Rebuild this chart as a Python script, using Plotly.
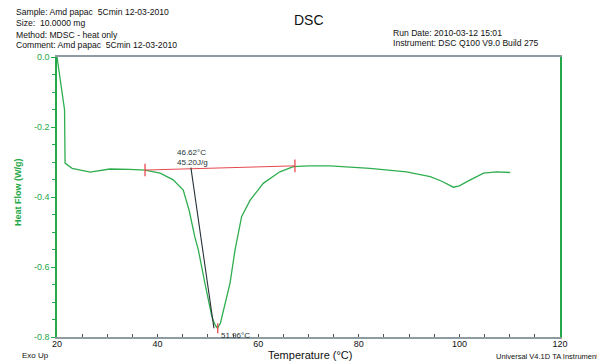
import plotly.graph_objects as go

# ---- data ----
temperature = [20.0, 21.5, 21.6, 23.0, 26.6, 30.5, 34.5, 37.5, 40.5, 43.1, 45.1, 46.3,
               47.4, 48.1, 49.4, 50.8, 51.4, 51.9, 52.5, 53.1, 54.4, 55.4, 56.7, 58.4,
               61.0, 64.3, 67.0, 70.0, 74.3, 82.2, 89.5, 94.2, 96.5, 98.8, 100.0, 101.5,
               104.8, 107.4, 110.1]
heat_flow = [0.0, -0.151, -0.303, -0.318, -0.329, -0.320, -0.321, -0.323, -0.332, -0.351,
             -0.380, -0.440, -0.514, -0.551, -0.646, -0.742, -0.765, -0.775, -0.760, -0.723,
             -0.646, -0.551, -0.456, -0.409, -0.361, -0.328, -0.313, -0.311, -0.311, -0.318,
             -0.328, -0.342, -0.355, -0.372, -0.368, -0.356, -0.332, -0.328, -0.330]

baseline_t = [37.5, 67.3]
baseline_h = [-0.323, -0.311]
tangent_t = [46.62, 51.2]
tangent_h = [-0.316, -0.775]
peak_t = [51.96]
peak_h = [-0.775]

onset_label = "46.62°C<br>45.20J/g"
peak_label = "51.96°C"

y_tick_vals = [0.0, -0.2, -0.4, -0.6, -0.8]
y_tick_text = ["0.0", "-0.2", "-0.4", "-0.6", "-0.8"]
x_tick_vals = [20, 40, 60, 80, 100, 120]

header_left = ["Sample: Amd papac  5Cmin 12-03-2010",
               "Size:  10.0000 mg",
               "Method: MDSC - heat only",
               "Comment: Amd papac  5Cmin 12-03-2010"]
header_right = ["Run Date: 2010-03-12 15:01",
                "Instrument: DSC Q100 V9.0 Build 275"]

W, H = 605, 362
OFF = 8  # page body margin shifts the figure by this many pixels
# desired plot-area edges in window pixels
PL, PR, PT, PB = 57, 560, 57, 337
L = PL - OFF
T = PT - OFF
R = W - (PR - OFF)
B = H - (PB - OFF)
GREEN = "#2fae50"
AXGREEN = "#25a848"
GRAY = "#8c9ca2"
RED = "#e8474f"
FONT = "Liberation Sans, Arial, sans-serif"


def px(x):
    return (x - PL) / (PR - PL)


def py(y):
    return (PB - y) / (PB - PT)


fig = go.Figure()
fig.add_trace(go.Scatter(x=temperature, y=heat_flow, mode="lines",
                         line=dict(color=GREEN, width=1.3), hoverinfo="skip"))
fig.add_trace(go.Scatter(x=baseline_t, y=baseline_h, mode="lines+markers",
                         line=dict(color=RED, width=1),
                         marker=dict(symbol="line-ns", size=9, line=dict(color=RED, width=1.3)),
                         hoverinfo="skip"))
fig.add_trace(go.Scatter(x=tangent_t, y=tangent_h, mode="lines",
                         line=dict(color="#263238", width=1.1), hoverinfo="skip"))
fig.add_trace(go.Scatter(x=peak_t, y=peak_h, mode="markers",
                         marker=dict(symbol="line-ns", size=7, line=dict(color=RED, width=1.3)),
                         hoverinfo="skip"))

ann = []
for i, t in enumerate(header_left):
    ann.append(dict(text=t, x=px(15), y=py(12.5 + 11 * i), xanchor="left", yanchor="middle",
                    font=dict(size=8.6, color="#111"), showarrow=False,
                    xref="paper", yref="paper", borderpad=0))
for i, t in enumerate(header_right):
    ann.append(dict(text=t, x=px(392), y=py(32.5 + 11 * i), xanchor="left", yanchor="middle",
                    font=dict(size=8.6, color="#111"), showarrow=False,
                    xref="paper", yref="paper", borderpad=0))
ann.append(dict(text="DSC", x=px(309), y=py(20), xanchor="center", yanchor="middle",
                font=dict(size=14, color="#111"), showarrow=False, xref="paper", yref="paper"))
ann.append(dict(text="<b>Heat Flow (W/g)</b>", x=px(18), y=py(192), textangle=-90,
                xanchor="center", yanchor="middle", font=dict(size=9, color=AXGREEN),
                showarrow=False, xref="paper", yref="paper"))
ann.append(dict(text="Temperature (°C)", x=px(310), y=py(355), xanchor="center", yanchor="middle",
                font=dict(size=11, color="#111"), showarrow=False, xref="paper", yref="paper"))
ann.append(dict(text="Exo Up", x=px(20), y=py(355), xanchor="left", yanchor="middle",
                font=dict(size=8, color="#111"), showarrow=False, xref="paper", yref="paper"))
ann.append(dict(text="Universal V4.1D TA Instruments", x=px(603), y=py(356), xanchor="right",
                yanchor="middle", font=dict(size=7.5, color="#111"), showarrow=False,
                xref="paper", yref="paper", borderpad=0))
ann.append(dict(text=onset_label, x=px(175), y=py(157), xanchor="left", yanchor="middle",
                align="left", font=dict(size=8, color="#263238"), showarrow=False,
                xref="paper", yref="paper"))
ann.append(dict(text=peak_label, x=px(219), y=py(335), xanchor="left", yanchor="middle",
                font=dict(size=8, color="#263238"), showarrow=False,
                xref="paper", yref="paper"))

fig.update_layout(
    width=W, height=H, margin=dict(l=L, r=R, t=T, b=B),
    paper_bgcolor="white", plot_bgcolor="white", showlegend=False,
    font=dict(family=FONT, size=9, color="#111"),
    annotations=ann,
    xaxis=dict(range=[20, 120], tickvals=x_tick_vals, showgrid=False, zeroline=False,
               showline=True, linecolor=GRAY, linewidth=2, mirror=True,
               ticks="inside", ticklen=3, tickcolor="#555", tickwidth=1,
               ticklabelstandoff=-3,
               tickfont=dict(size=9, color="#111"),
               minor=dict(dtick=5, ticks="inside", ticklen=3, tickcolor="#555")),
    yaxis=dict(range=[-0.8, 0.0], tickvals=y_tick_vals, ticktext=y_tick_text,
               showgrid=False, zeroline=False,
               showline=True, linecolor=AXGREEN, linewidth=1.5, mirror=True,
               ticks="outside", ticklen=4, tickcolor=AXGREEN, tickwidth=1,
               tickfont=dict(size=9, color=AXGREEN),
               minor=dict(dtick=0.05, ticks="outside", ticklen=3, tickcolor=AXGREEN)),
)
fig.write_html("out.html")
